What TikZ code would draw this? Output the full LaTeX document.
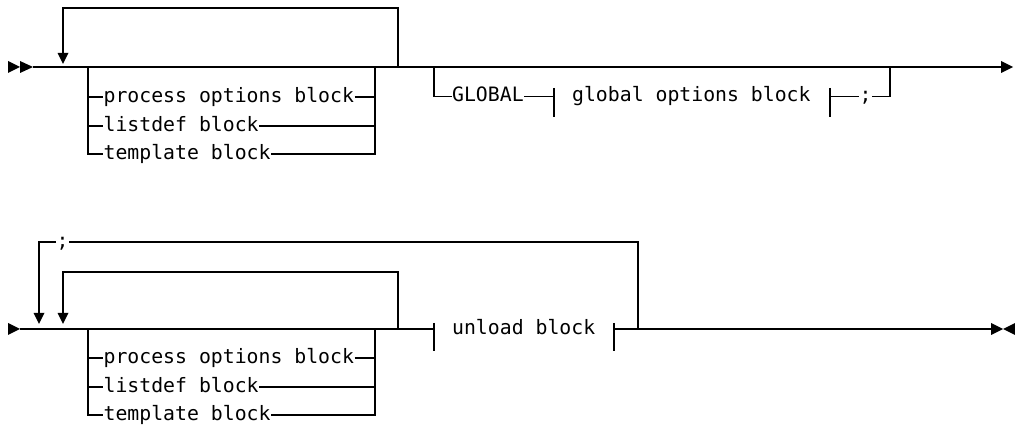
\documentclass[tikz,border=0pt]{standalone}
\usepackage{fontspec}
\setmonofont{DejaVu Sans Mono}
\begin{document}
\begin{tikzpicture}[x=1pt,y=-1pt,line width=1.3pt,
  lbl/.style={font=\ttfamily\fontsize{19.8}{22}\selectfont,inner xsep=0pt,inner ysep=0pt,
              text height=10.8pt,text depth=0pt,anchor=west},
  tip/.style={fill=black,draw=none}]
\useasboundingbox (0,0) rectangle (1015,427);

% ---------------- Row 1 ----------------
\coordinate (s1) at (33,67);
\coordinate (e1) at (1002,67);
\fill[tip] (8,61) -- (20,67) -- (8,73) -- cycle;
\fill[tip] (20,61) -- (33,67) -- (20,73) -- cycle;
\draw (s1) -- (e1);
\fill[tip] (1001,61) -- (1013,67) -- (1001,73) -- cycle;

% repeat loop
\coordinate (l1r) at (398,67);
\coordinate (l1a) at (63,53);
\draw (l1r) -- ++(0,-59) -| (l1a);
\fill[tip] (57.5,53) -- (68.5,53) -- (63,64) -- cycle;

% choice box
\coordinate (c1l) at (88,67);
\coordinate (c1r) at (375,67);
\node[lbl] (a1) at (103,97) {process options block};
\node[lbl] (a2) at (103,126) {listdef block};
\node[lbl] (a3) at (103,154) {template block};
\draw (c1l) |- (a3.west);
\draw (a1.west -| c1l) -- (a1.west);
\draw (a2.west -| c1l) -- (a2.west);
\draw (c1r) |- (a3.east);
\draw (a1.east) -- (a1.east -| c1r);
\draw (a2.east) -- (a2.east -| c1r);

% GLOBAL branch
\coordinate (g0) at (434,67);
\coordinate (g1) at (890,67);
\node[lbl] (glob) at (451.5,96.5) {GLOBAL};
\coordinate (b1) at (554,96.5);
\node[lbl] (gob) at (571.5,96.5) {global options block};
\coordinate (b2) at (830,96.5);
\node[lbl] (semi1) at (859,96.5) {;};
\draw (g0) |- (glob.west);
\draw (glob.east) -- (b1);
\draw ([yshift=8.5pt]b1) -- ([yshift=-20.5pt]b1);
\draw ([yshift=8.5pt]b2) -- ([yshift=-20.5pt]b2);
\draw (b2) -- (semi1.west);
\draw (semi1.east) -| (g1);

% ---------------- Row 2 ----------------
\coordinate (s2) at (20,329);
\coordinate (b3) at (434,329);
\coordinate (b4) at (614,329);
\coordinate (e2) at (992,329);
\fill[tip] (8,323) -- (20,329) -- (8,335) -- cycle;
\draw (s2) -- (b3);
\draw ([yshift=6pt]b3) -- ([yshift=-22pt]b3);
\node[lbl] (ul) at (451.5,329) {unload block};
\draw ([yshift=6pt]b4) -- ([yshift=-22pt]b4);
\draw (b4) -- (e2);
\fill[tip] (991,323) -- (1003,329) -- (991,335) -- cycle;
\fill[tip] (1015,323) -- (1003,329) -- (1015,335) -- cycle;

% outer loop with separator
\coordinate (o1) at (638,329);
\coordinate (oa) at (39,313);
\node[lbl] (semi2) at (56,242) {;};
\draw (o1) |- (semi2.east);
\draw (semi2.west) -| (oa);
\fill[tip] (33.5,313) -- (44.5,313) -- (39,324) -- cycle;

% inner loop
\coordinate (i1) at (398,329);
\coordinate (ia) at (63,313);
\draw (i1) -- ++(0,-57) -| (ia);
\fill[tip] (57.5,313) -- (68.5,313) -- (63,324) -- cycle;

% choice box
\coordinate (c2l) at (88,329);
\coordinate (c2r) at (375,329);
\node[lbl] (d1) at (103,358) {process options block};
\node[lbl] (d2) at (103,387) {listdef block};
\node[lbl] (d3) at (103,415) {template block};
\draw (c2l) |- (d3.west);
\draw (d1.west -| c2l) -- (d1.west);
\draw (d2.west -| c2l) -- (d2.west);
\draw (c2r) |- (d3.east);
\draw (d1.east) -- (d1.east -| c2r);
\draw (d2.east) -- (d2.east -| c2r);
\end{tikzpicture}
\end{document}
